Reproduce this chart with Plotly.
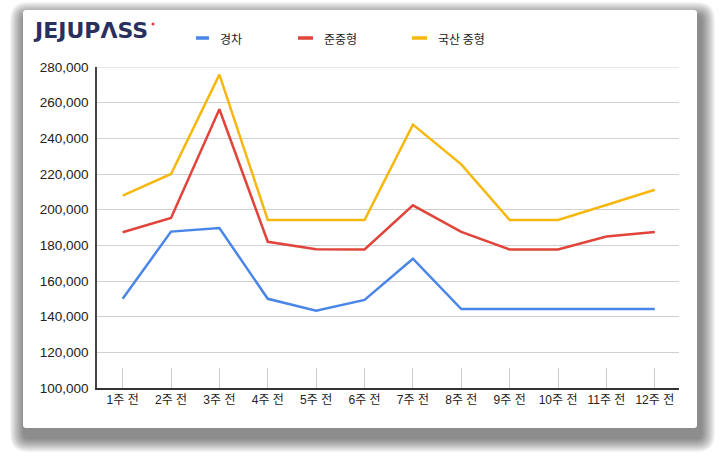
import plotly.graph_objects as go

# ---------------- data ----------------
weeks = ["1주 전", "2주 전", "3주 전", "4주 전", "5주 전", "6주 전",
         "7주 전", "8주 전", "9주 전", "10주 전", "11주 전", "12주 전"]
light_car = [150000, 187700, 189700, 150000, 143400, 149400,
             172500, 144300, 144300, 144300, 144300, 144300]          # 경차
compact = [187300, 195300, 256300, 182000, 177800, 177700,
           202400, 187500, 177700, 177700, 184900, 187500]            # 준중형
midsize = [207900, 220000, 275700, 194200, 194200, 194200,
           247700, 225400, 194200, 194200, 202600, 211200]            # 국산 중형
series_names = ["경차", "준중형", "국산 중형"]
series_colors = ["#4A86E8", "#E0443A", "#F6B80E"]
y_ticks = list(range(100000, 280001, 20000))

# ---------------- layout geometry (pixels) ----------------
W, H = 720, 463
ML, MR, MT, MB = 97, 41, 67, 75
PW, PH = W - ML - MR, H - MT - MB


def X(px):
    return (px - ML) / PW


def Y(py):
    return (H - MB - py) / PH


def rrect(x0, y0, x1, y1, r):
    pts = [
        f"M{X(x0 + r)},{Y(y0)}", f"L{X(x1 - r)},{Y(y0)}",
        f"Q{X(x1)},{Y(y0)} {X(x1)},{Y(y0 + r)}", f"L{X(x1)},{Y(y1 - r)}",
        f"Q{X(x1)},{Y(y1)} {X(x1 - r)},{Y(y1)}", f"L{X(x0 + r)},{Y(y1)}",
        f"Q{X(x0)},{Y(y1)} {X(x0)},{Y(y1 - r)}", f"L{X(x0)},{Y(y0 + r)}",
        f"Q{X(x0)},{Y(y0)} {X(x0 + r)},{Y(y0)}", "Z",
    ]
    return " ".join(pts)


shapes = []
# soft shadow made of stacked translucent rounded rectangles
for k in range(1, 15):
    shapes.append(dict(
        type="path", xref="paper", yref="paper", layer="below",
        path=rrect(24 - k, 16 - k, 701 + k, 438 + k, 4 + k),
        fillcolor="rgba(0,0,0,0.038)", line=dict(width=0),
    ))
# white card
shapes.append(dict(
    type="path", xref="paper", yref="paper", layer="below",
    path=rrect(23, 10, 697, 428, 3),
    fillcolor="white", line=dict(width=0),
))

FONT = "Liberation Sans, Arial, Noto Sans CJK KR, sans-serif"
KFONT = "Noto Sans CJK KR, Liberation Sans, sans-serif"

annotations = []
# logo
annotations.append(dict(
    xref="paper", yref="paper", x=X(31), y=Y(31), xanchor="left", yanchor="middle",
    text="JEJUP\u039bSS", showarrow=False,
    font=dict(family="DejaVu Sans, Inter, sans-serif", size=22, color="#2B2F5E", weight=700),
))
shapes.append(dict(
    type="circle", xref="paper", yref="paper",
    x0=X(151.5), x1=X(154.5), y0=Y(22.5), y1=Y(25.5),
    fillcolor="#E8384F", line=dict(width=0),
))

# manual legend
legend_line_x = [(196, 209), (298, 313), (412, 427)]
legend_text_x = [218, 322, 436]
ly = 38
for name, col, (a, b), tx in zip(series_names, series_colors, legend_line_x, legend_text_x):
    shapes.append(dict(
        type="line", xref="paper", yref="paper",
        x0=X(a), x1=X(b), y0=Y(ly), y1=Y(ly),
        line=dict(color=col, width=3.5),
    ))
    annotations.append(dict(
        xref="paper", yref="paper", x=X(tx), y=Y(ly), xanchor="left", yanchor="middle",
        text=name, showarrow=False, font=dict(family=KFONT, size=12, color="#222222"),
    ))

# top gridline (at the last tick) which plotly omits at the range edge
shapes.append(dict(
    type="line", xref="paper", yref="y", x0=0, x1=1,
    y0=y_ticks[-1], y1=y_ticks[-1], line=dict(color="#D0D0D0", width=1),
))

fig = go.Figure()
for name, vals, col in zip(series_names, [light_car, compact, midsize], series_colors):
    fig.add_trace(go.Scatter(
        x=weeks, y=vals, name=name, mode="lines",
        line=dict(color=col, width=2.5),
        showlegend=False,
    ))

fig.update_layout(
    width=W, height=H,
    margin=dict(l=ML, r=MR, t=MT, b=MB, pad=0),
    paper_bgcolor="white",
    plot_bgcolor="rgba(0,0,0,0)",
    shapes=shapes,
    annotations=annotations,
    font=dict(family=FONT, size=13, color="#222222"),
)
fig.update_xaxes(
    type="category", range=[-0.53, 11.5],
    showgrid=False, zeroline=False,
    showline=True, linecolor="#333333", linewidth=2,
    ticks="inside", ticklen=20, tickcolor="#CCCCCC", tickwidth=1,
    tickfont=dict(family=FONT, size=12, color="#222222"),
)
fig.update_yaxes(
    range=[100000, 280000], tickvals=y_ticks, tickformat=",d",
    showgrid=True, gridcolor="#D0D0D0", gridwidth=1,
    zeroline=False,
    showline=True, linecolor="#444444", linewidth=1.5,
    ticks="", ticklabelstandoff=4,
    tickfont=dict(family=FONT, size=13.5, color="#222222"),
)

fig.write_html("out.html")
